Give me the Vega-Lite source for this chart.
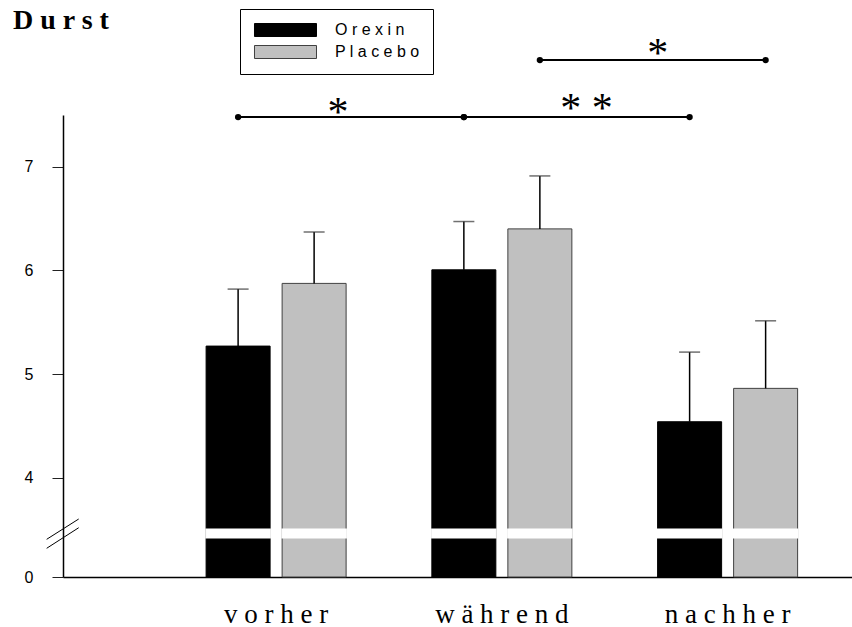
{
  "$schema": "https://vega.github.io/schema/vega-lite/v6.json",
  "width": 789,
  "height": 462,
  "autosize": "none",
  "padding": {"left": 63, "top": 115, "right": 0, "bottom": 50},
  "background": "white",
  "title": {"text": "D u r s t", "font": "Liberation Serif", "fontSize": 28, "fontWeight": "bold", "anchor": "start", "frame": "group", "dx": -50, "dy": 30, "color": "black"},
  "config": {"view": {"stroke": null}, "axis": {"grid": false}},
  "datasets": {
    "werte": [
      {"zeit": "vorher", "gruppe": "Orexin", "mittel": 5.27, "oben": 5.82},
      {"zeit": "vorher", "gruppe": "Placebo", "mittel": 5.875, "oben": 6.372},
      {"zeit": "während", "gruppe": "Orexin", "mittel": 6.006, "oben": 6.472},
      {"zeit": "während", "gruppe": "Placebo", "mittel": 6.401, "oben": 6.912},
      {"zeit": "nachher", "gruppe": "Orexin", "mittel": 4.54, "oben": 5.212},
      {"zeit": "nachher", "gruppe": "Placebo", "mittel": 4.862, "oben": 5.514}
    ],
    "vergleiche": [
      {"nr": 1, "von": "vorher", "bis": "während", "gruppe": "Orexin", "hoehe": 7.48, "sterne": "*"},
      {"nr": 2, "von": "während", "bis": "nachher", "gruppe": "Orexin", "hoehe": 7.48, "sterne": "* *"},
      {"nr": 3, "von": "während", "bis": "nachher", "gruppe": "Placebo", "hoehe": 8.03, "sterne": "*"}
    ],
    "bruch": [{"teil": "achse"}]
  },
  "layer": [
    {
      "encoding": {
        "x": {"field": "zeit", "type": "nominal",
          "scale": {"domain": ["vorher", "während", "nachher"], "paddingInner": 0, "paddingOuter": 0.2475, "align": 0.897},
          "axis": {"title": null, "ticks": false, "tickSize": 0, "labelPadding": 45, "labelBaseline": "alphabetic", "labelFont": "Liberation Serif", "labelFontSize": 27, "labelColor": "black", "labelAngle": 0, "domainColor": "black", "domainWidth": 1.5, "labelExpr": "join(split(datum.label, ''), ' ')"}},
        "xOffset": {"field": "gruppe", "type": "nominal", "scale": {"domain": ["Orexin", "Placebo"], "paddingInner": 0.158, "paddingOuter": 0.564}}
      },
      "layer": [
        {
          "data": {"name": "werte"},
          "mark": {"type": "bar", "strokeWidth": 1},
          "encoding": {
            "y": {"field": "mittel", "type": "quantitative",
              "scale": {"domain": [0, 4, 7.5], "range": [462, 362.7, 0], "nice": false, "zero": false},
              "axis": {"title": null, "values": [0, 4, 5, 6, 7], "format": ".0f", "tickSize": 11, "labelPadding": 19, "labelFont": "Liberation Sans", "labelFontSize": 16, "labelColor": "black", "domainColor": "black", "domainWidth": 1.5, "tickColor": "#222", "tickWidth": 1}},
            "color": {"field": "gruppe", "type": "nominal",
              "scale": {"domain": ["Orexin", "Placebo"], "range": ["black", "#c0c0c0"]},
              "legend": {"orient": "none", "legendX": 177, "legendY": -106, "title": null, "direction": "vertical",
                "symbolType": "M-4.77,-1L4.77,-1L4.77,1L-4.77,1Z", "symbolSize": 169, "symbolOffset": 24.5, "labelOffset": 41.5,
                "labelFont": "Liberation Sans", "labelFontSize": 16, "labelColor": "black", "strokeColor": "black", "padding": 13, "rowPadding": 4,
                "symbolStrokeColor": "#222", "symbolStrokeWidth": 1, "labelExpr": "join(split(datum.label, ''), ' ')"}},
            "stroke": {"field": "gruppe", "type": "nominal", "scale": {"domain": ["Orexin", "Placebo"], "range": ["black", "#404040"]}, "legend": null}
          }
        },
        {
          "data": {"name": "werte"},
          "mark": {"type": "bar", "color": "white", "stroke": "white", "strokeWidth": 1.5},
          "encoding": {
            "y": {"datum": 1.583, "type": "quantitative"},
            "y2": {"datum": 1.921}
          }
        },
        {
          "data": {"name": "werte"},
          "mark": {"type": "rule", "color": "black", "strokeWidth": 1.5},
          "encoding": {
            "y": {"field": "mittel", "type": "quantitative"},
            "y2": {"field": "oben"}
          }
        },
        {
          "data": {"name": "werte"},
          "mark": {"type": "tick", "orient": "horizontal", "size": 21, "thickness": 1.5, "color": "#333"},
          "encoding": {
            "y": {"field": "oben", "type": "quantitative"}
          }
        },
        {
          "data": {"name": "vergleiche"},
          "transform": [{"fold": ["von", "bis"], "as": ["ende", "zeitpunkt"]}],
          "layer": [
            {
              "mark": {"type": "line", "color": "black", "strokeWidth": 2},
              "encoding": {
                "x": {"field": "zeitpunkt", "type": "nominal"},
                "y": {"field": "hoehe", "type": "quantitative"},
                "detail": {"field": "nr", "type": "nominal"}
              }
            },
            {
              "mark": {"type": "point", "shape": "circle", "filled": true, "size": 40, "color": "black", "opacity": 1},
              "encoding": {
                "x": {"field": "zeitpunkt", "type": "nominal"},
                "y": {"field": "hoehe", "type": "quantitative"}
              }
            }
          ]
        },
        {
          "data": {"name": "vergleiche"},
          "transform": [{"filter": "datum.nr == 1"}],
          "mark": {"type": "text", "font": "Liberation Serif", "fontSize": 42, "color": "black", "baseline": "alphabetic", "dx": 100, "dy": 9.4},
          "encoding": {
            "x": {"field": "von", "type": "nominal"},
            "y": {"field": "hoehe", "type": "quantitative"},
            "text": {"field": "sterne"}
          }
        },
        {
          "data": {"name": "vergleiche"},
          "transform": [{"filter": "datum.nr == 2"}],
          "mark": {"type": "text", "font": "Liberation Serif", "fontSize": 42, "color": "black", "baseline": "alphabetic", "dx": 122.7, "dy": 5.4},
          "encoding": {
            "x": {"field": "von", "type": "nominal"},
            "y": {"field": "hoehe", "type": "quantitative"},
            "text": {"field": "sterne"}
          }
        },
        {
          "data": {"name": "vergleiche"},
          "transform": [{"filter": "datum.nr == 3"}],
          "mark": {"type": "text", "font": "Liberation Serif", "fontSize": 42, "color": "black", "baseline": "alphabetic", "dx": 118, "dy": 6.6},
          "encoding": {
            "x": {"field": "von", "type": "nominal"},
            "y": {"field": "hoehe", "type": "quantitative"},
            "text": {"field": "sterne"}
          }
        }
      ]
    },
    {
      "data": {"name": "bruch"},
      "mark": {"type": "rule", "color": "black", "strokeWidth": 1},
      "encoding": {
        "x": {"datum": -0.0207, "type": "quantitative", "scale": {"domain": [0, 1]}, "axis": null},
        "x2": {"datum": 0.0199},
        "y": {"datum": 1.518, "type": "quantitative"},
        "y2": {"datum": 2.336}
      }
    },
    {
      "data": {"name": "bruch"},
      "mark": {"type": "rule", "color": "black", "strokeWidth": 1},
      "encoding": {
        "x": {"datum": -0.0207, "type": "quantitative", "scale": {"domain": [0, 1]}, "axis": null},
        "x2": {"datum": 0.0199},
        "y": {"datum": 1.156, "type": "quantitative"},
        "y2": {"datum": 1.985}
      }
    }
  ],
  "resolve": {"scale": {"x": "independent"}}
}
